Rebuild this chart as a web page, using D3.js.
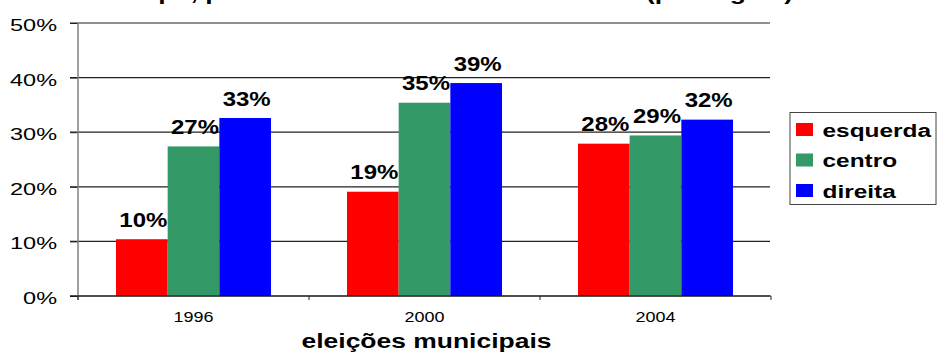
<!DOCTYPE html>
<html>
<head>
<meta charset="utf-8">
<script src="https://cdn.jsdelivr.net/npm/d3@7"></script>
<style>
  body { margin: 0; background: #fff; }
  svg { display: block; font-family: "Liberation Sans", Arial, sans-serif; }
</style>
</head>
<body>
<svg id="svg"></svg>
<script>
// chart data
const years = ["1996", "2000", "2004"];
const series = ["esquerda", "centro", "direita"];
const esquerda = [0.104, 0.191, 0.279];
const centro = [0.274, 0.354, 0.294];
const direita = [0.326, 0.390, 0.323];
const yTicks = [0, 0.1, 0.2, 0.3, 0.4, 0.5];
const colors = ["#ff0000", "#339966", "#0000ff"];
const chartTitle = "Prefeituras de cada tipo, por bloco dos eleitos em cada ano (por região)";
const xTitle = "eleições municipais";

const width = 937;
const height = 352;
const margin = { top: 23, left: 78, right: 166, bottom: 56 };
const innerW = width - margin.left - margin.right;
const innerH = height - margin.top - margin.bottom;

const svg = d3.select("#svg")
  .attr("width", width)
  .attr("height", height);

// the source picture is stretched sideways, so text gets a horizontal scale
function stretch(sel, x, y, sx) {
  sel.attr("x", 0).attr("y", 0).attr("dy", null)
    .attr("transform", `translate(${x},${y}) scale(${sx},1)`);
}

// title, mostly cut off above the picture
svg.append("text")
  .attr("text-anchor", "end")
  .attr("font-size", 21)
  .attr("font-weight", "bold")
  .text(chartTitle)
  .call(stretch, 793, -0.5, 1.26);

const g = svg.append("g")
  .attr("transform", `translate(${margin.left},${margin.top})`);

const x0 = d3.scaleBand().domain(years).range([0, innerW]);
const x1 = d3.scaleBand().domain(series).range([0, x0.bandwidth()]).paddingOuter(0.735);
const y = d3.scaleLinear().domain([0, 0.5]).range([innerH, 0]);

// gridlines
g.selectAll("line.grid")
  .data(yTicks)
  .enter()
  .append("line")
  .attr("class", "grid")
  .attr("x1", -8)
  .attr("x2", innerW - 1)
  .attr("y1", d => y(d))
  .attr("y2", d => y(d))
  .attr("stroke", "#222")
  .attr("stroke-width", 1.2);

// y axis
const yAxis = g.append("g")
  .call(d3.axisLeft(y).tickValues(yTicks).tickFormat(d3.format(".0%")).tickSize(8));
yAxis.select(".domain").remove();
yAxis.selectAll(".tick line").attr("stroke", "#222");
yAxis.selectAll(".tick text")
  .attr("font-size", 17)
  .attr("fill", "#000")
  .attr("font-family", null)
  .call(stretch, -21, 7.5, 1.38);

g.append("line")
  .attr("x1", 0).attr("x2", 0)
  .attr("y1", 0).attr("y2", innerH + 4)
  .attr("stroke", "#808080")
  .attr("stroke-width", 1.5);

// bars
const rows = years.map((yr, i) => ({
  year: yr,
  values: [esquerda[i], centro[i], direita[i]]
}));

const groups = g.selectAll("g.year")
  .data(rows)
  .enter()
  .append("g")
  .attr("class", "year")
  .attr("transform", d => `translate(${x0(d.year)},0)`);

groups.selectAll("rect")
  .data(d => d.values.map((v, j) => ({ key: series[j], value: v, j: j })))
  .enter()
  .append("rect")
  .attr("x", d => x1(d.key))
  .attr("y", d => y(d.value))
  .attr("width", x1.bandwidth())
  .attr("height", d => innerH - y(d.value))
  .attr("fill", d => colors[d.j]);

groups.selectAll("text.val")
  .data(d => d.values.map((v, j) => ({ key: series[j], value: v })))
  .enter()
  .append("text")
  .attr("class", "val")
  .attr("text-anchor", "middle")
  .attr("font-size", 19.5)
  .attr("font-weight", "bold")
  .text(d => d3.format(".0%")(d.value))
  .each(function(d) {
    d3.select(this).call(stretch, x1(d.key) + x1.bandwidth() / 2 + 1.5, y(d.value) - 12.3, 1.23);
  });

// x axis
const xAxis = g.append("g")
  .attr("transform", `translate(0,${innerH})`)
  .call(d3.axisBottom(x0).tickSize(0));
xAxis.select(".domain").remove();
xAxis.selectAll(".tick text")
  .attr("font-size", 15)
  .attr("fill", "#000")
  .attr("font-family", null)
  .call(stretch, 0, 26.3, 1.2);

g.append("line")
  .attr("x1", -8).attr("x2", innerW)
  .attr("y1", innerH).attr("y2", innerH)
  .attr("stroke", "#111")
  .attr("stroke-width", 1.2);

g.selectAll("line.xtick")
  .data(years.map(yr => x0(yr)).concat([innerW]))
  .enter()
  .append("line")
  .attr("class", "xtick")
  .attr("x1", d => d).attr("x2", d => d)
  .attr("y1", innerH).attr("y2", innerH + 4)
  .attr("stroke", "#222");

// x axis title
svg.append("text")
  .attr("text-anchor", "middle")
  .attr("font-size", 21)
  .attr("font-weight", "bold")
  .text(xTitle)
  .call(stretch, margin.left + innerW / 2 + 2, 348, 1.26);

// legend
const legend = svg.append("g")
  .attr("transform", "translate(790,112.5)");

legend.append("rect")
  .attr("width", 146)
  .attr("height", 92)
  .attr("fill", "#fff")
  .attr("stroke", "#444");

series.forEach((s, i) => {
  const row = legend.append("g")
    .attr("transform", `translate(6,${10.5 + i * 30.5})`);
  row.append("rect")
    .attr("width", 17)
    .attr("height", 13)
    .attr("fill", colors[i]);
  row.append("text")
    .attr("font-size", 18.5)
    .attr("font-weight", "bold")
    .text(s)
    .call(stretch, 26.5, 13.5, 1.32);
});
</script>
</body>
</html>
